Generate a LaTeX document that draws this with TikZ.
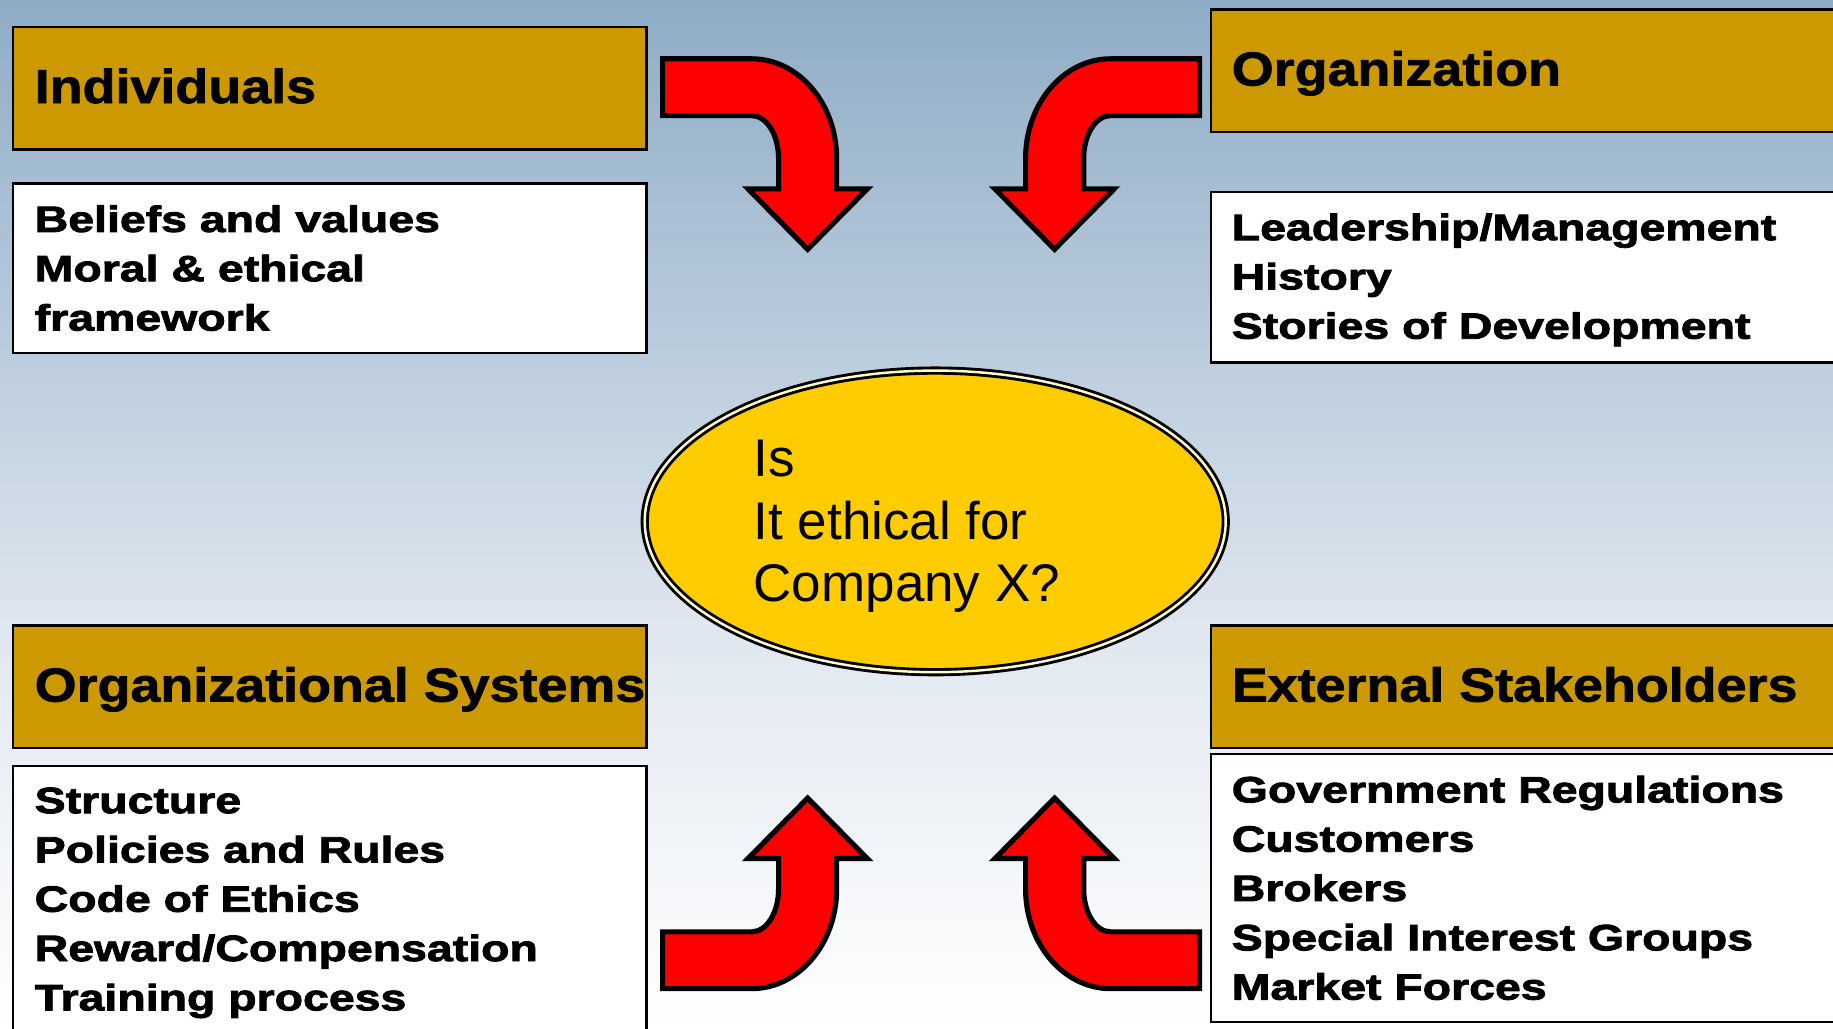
\documentclass[tikz,border=0pt]{standalone}
\usepackage{fontspec}
\usepackage{tikz}
\usetikzlibrary{positioning,shapes.geometric}
\setmainfont{Liberation Sans}
\newfontfamily\headfont[FakeStretch=1.13,FakeBold=1.6]{Liberation Sans}
\newfontfamily\listfont[FakeStretch=1.27,FakeBold=2.4]{Liberation Sans}
\definecolor{gold}{HTML}{CC9900}
\definecolor{yolk}{HTML}{FFCC00}
\definecolor{bgtop}{HTML}{8FACC6}
\definecolor{bghigh}{HTML}{BCCDDD}
\definecolor{bglow}{HTML}{E4EAF2}
\definecolor{bgbottom}{HTML}{FFFFFF}
\pgfdeclareverticalshading{skyshade}{100bp}{color(0bp)=(bgbottom); color(25bp)=(bgbottom); color(42.5bp)=(bglow); color(57.5bp)=(bghigh); color(75bp)=(bgtop); color(100bp)=(bgtop)}
\tikzset{bendarrow/.pic={
  \draw[turn] (0,0) -- (0.51,0.517) -- (0.248,0.517) -- (0.248,0.777)
    .. controls (0.248,1.248) and (-0.078,1.63) .. (-0.479,1.63)
    -- (-1.241,1.63) -- (-1.241,1.144) -- (-0.479,1.144)
    .. controls (-0.352,1.144) and (-0.249,0.98) .. (-0.249,0.777)
    -- (-0.249,0.517) -- (-0.51,0.517) -- cycle;
}}

\begin{document}
\begin{tikzpicture}
\tikzstyle{header}=[rectangle, draw=black, line width=0.6pt, fill=gold, anchor=north west, minimum height=1.05cm, inner sep=0pt]
\tikzstyle{headtext}=[inner sep=0pt, text height=8.3pt, text depth=0pt, yshift=0.02cm, font=\headfont\fontsize{11.6}{13}\selectfont\bfseries]
\tikzstyle{listbox}=[rectangle, draw=black, line width=0.6pt, fill=white, anchor=north west, inner sep=0pt]
\tikzstyle{listtext}=[inner sep=0pt, align=left, font=\listfont\fontsize{8.9}{12}\selectfont\bfseries]
\tikzstyle{turn}=[draw=black, line width=1.25pt, fill=red, line join=miter]
\shade[shading=skyshade] (0,0) rectangle (15.68,-8.80);
\useasboundingbox (0,0) rectangle (15.68,-8.80);
% upper left
\node[header, minimum width=5.42cm] (indiv) at (0.10,-0.22) {};
\node[headtext, right=0.19cm of indiv.west] (indivlabel) {Individuals};
\node[listbox, minimum width=5.42cm, minimum height=1.45cm] (indivlist) at (0.10,-1.56) {};
\node[listtext, below right=0.19cm and 0.19cm of indivlist.north west] (indivtext)
  {Beliefs and values\\Moral \& ethical\\framework};
% upper right
\node[header, minimum width=5.45cm] (org) at (10.35,-0.07) {};
\node[headtext, right=0.18cm of org.west] (orglabel) {Organization};
\node[listbox, minimum width=5.45cm, minimum height=1.46cm] (orglist) at (10.35,-1.63) {};
\node[listtext, below right=0.19cm and 0.18cm of orglist.north west] (orgtext)
  {Leadership/Management\\History\\Stories of Development};
% lower left
\node[header, minimum width=5.42cm] (systems) at (0.10,-5.34) {};
\node[headtext, right=0.19cm of systems.west] (systemslabel) {Organizational Systems};
\node[listbox, minimum width=5.42cm, minimum height=2.40cm] (systemslist) at (0.10,-6.54) {};
\node[listtext, below right=0.19cm and 0.19cm of systemslist.north west] (systemstext)
  {Structure\\Policies and Rules\\Code of Ethics\\Reward/Compensation\\Training process};
% lower right
\node[header, minimum width=5.45cm] (external) at (10.35,-5.34) {};
\node[headtext, right=0.18cm of external.west] (externallabel) {External Stakeholders};
\node[listbox, minimum width=5.45cm, minimum height=2.29cm] (externallist) at (10.35,-6.44) {};
\node[listtext, below right=0.19cm and 0.18cm of externallist.north west] (externaltext)
  {Government Regulations\\Customers\\Brokers\\Special Interest Groups\\Market Forces};
% centre
\node[ellipse, draw=black, line width=0.7pt, double=yellow!20, double distance=0.6pt, fill=yolk, minimum width=4.97cm, minimum height=2.58cm, inner sep=0pt] (question) at (8.00,-4.46) {};
\node[anchor=north west, align=left, inner sep=0pt, font=\fontsize{12.9}{15.2}\selectfont] (questiontext) at (6.44,-3.76)
  {Is\\It ethical for\\Company X?};
% arrows
\pic at (6.909,-2.133) {bendarrow};
\pic[xscale=-1] at (9.021,-2.133) {bendarrow};
\pic[yscale=-1] at (6.909,-6.827) {bendarrow};
\pic[xscale=-1, yscale=-1] at (9.021,-6.827) {bendarrow};
\end{tikzpicture}
\end{document}
